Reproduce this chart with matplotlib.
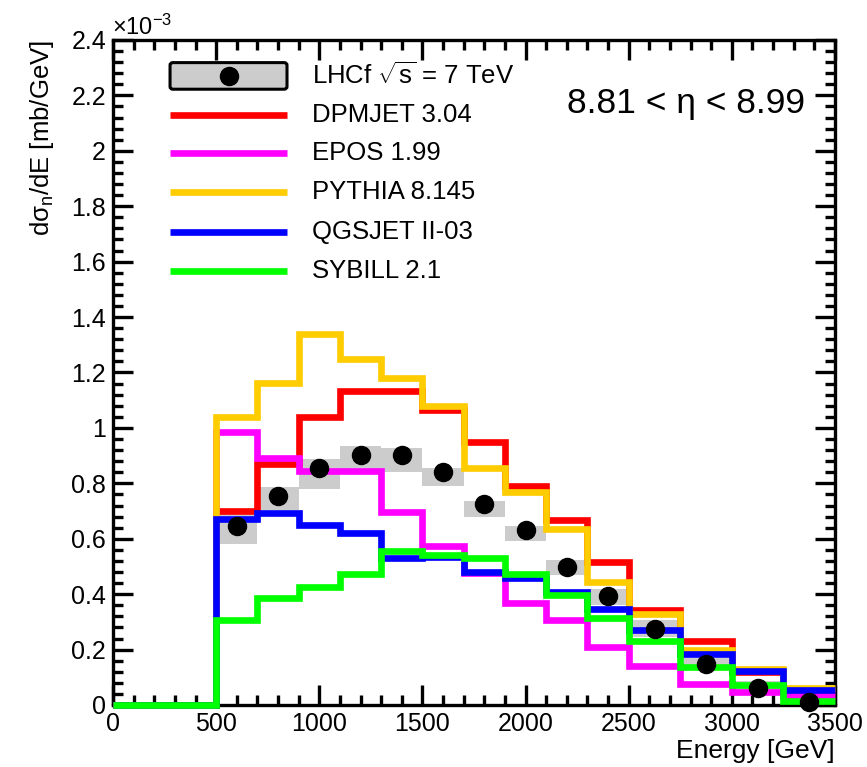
import numpy as np
import matplotlib
matplotlib.use("Agg")
import matplotlib.pyplot as plt
from matplotlib.ticker import MultipleLocator, FuncFormatter
from matplotlib.patches import FancyBboxPatch

plt.rcParams['font.family'] = ['Liberation Sans', 'DejaVu Sans']
plt.rcParams['mathtext.fontset'] = 'custom'
plt.rcParams['mathtext.rm'] = 'Liberation Sans'
plt.rcParams['mathtext.it'] = 'Liberation Sans:italic'
plt.rcParams['mathtext.bf'] = 'Liberation Sans:bold'

# ---- data (units of 1e-3 mb/GeV) ----
edges = [0, 500, 700, 900, 1100, 1300, 1500, 1700, 1900, 2100, 2300, 2500, 2750, 3000, 3250, 3500]
dpmjet = [0, 0.70, 0.87, 1.04, 1.135, 1.135, 1.065, 0.95, 0.79, 0.667, 0.515, 0.344, 0.231, 0.12, 0.05]
epos   = [0, 0.987, 0.89, 0.844, 0.844, 0.695, 0.573, 0.476, 0.367, 0.306, 0.21, 0.141, 0.077, 0.047, 0.033]
pythia = [0, 1.04, 1.163, 1.34, 1.247, 1.18, 1.08, 0.857, 0.767, 0.634, 0.443, 0.328, 0.199, 0.131, 0.062]
qgsjet = [0, 0.673, 0.693, 0.648, 0.622, 0.53, 0.533, 0.48, 0.457, 0.407, 0.346, 0.27, 0.183, 0.123, 0.054]
sybill = [0, 0.306, 0.385, 0.425, 0.472, 0.555, 0.542, 0.53, 0.472, 0.396, 0.313, 0.231, 0.137, 0.072, 0.016]

lhcf    = [0.647, 0.754, 0.857, 0.904, 0.901, 0.841, 0.726, 0.63, 0.498, 0.392, 0.275, 0.149, 0.063, 0.01]
lhcf_lo = [0.582, 0.705, 0.78, 0.853, 0.84, 0.789, 0.68, 0.591, 0.468, 0.36, 0.246, 0.135, 0.045, 0.0]
lhcf_hi = [0.69, 0.785, 0.889, 0.936, 0.926, 0.857, 0.738, 0.645, 0.522, 0.42, 0.307, 0.17, 0.085, 0.02]

model_names = ["DPMJET 3.04", "EPOS 1.99", "PYTHIA 8.145", "QGSJET II-03", "SYBILL 2.1"]
model_colors = ["#ff0000", "#ff00ff", "#ffcc00", "#0000ff", "#00ff00"]
models = [dpmjet, epos, pythia, qgsjet, sybill]
data_label = r"LHCf $\sqrt{\mathrm{s}}$ = 7 TeV"
eta_label = "8.81 < η < 8.99"

W, H = 867, 767
fig = plt.figure(figsize=(W / 100, H / 100), dpi=100)
ax = fig.add_axes([113 / W, 1 - 705 / H, (835 - 113) / W, (705 - 40) / H])

e = np.array(edges, dtype=float)
dedges = e[1:]
centers = 0.5 * (dedges[1:] + dedges[:-1])
widths = np.diff(dedges)

# systematic boxes
lo = np.array(lhcf_lo); hi = np.array(lhcf_hi)
ax.bar(centers, hi - lo, bottom=lo, width=widths, color="#cccccc", zorder=1, linewidth=0)

LW = 4.8
for vals, col in zip(models, model_colors):
    ax.stairs(vals, e, baseline=None, color=col, linewidth=LW, zorder=3, clip_on=False)

ax.plot(centers, lhcf, 'o', color='black', markersize=13, zorder=5, clip_on=False)

ax.set_xlim(0, 3500)
ax.set_ylim(0, 2.4)

ax.xaxis.set_major_locator(MultipleLocator(500))
ax.xaxis.set_minor_locator(MultipleLocator(100))
ax.yaxis.set_major_locator(MultipleLocator(0.2))
ax.yaxis.set_minor_locator(MultipleLocator(0.04))
ax.yaxis.set_major_formatter(FuncFormatter(lambda v, p: "%g" % round(v, 3)))
ax.xaxis.set_major_formatter(FuncFormatter(lambda v, p: "%g" % v))

ax.tick_params(which='both', direction='in', top=True, right=True, width=2.4, labelsize=18)
ax.tick_params(which='major', length=14.5, pad=5)
ax.tick_params(which='minor', length=7)
for s in ax.spines.values():
    s.set_linewidth(2.4)

# legend (manual)
rows_y = [0.946, 0.887, 0.830, 0.771, 0.712, 0.653]
x0, x1, xt = 0.079, 0.241, 0.276
box = FancyBboxPatch((x0, 0.926), x1 - x0, 0.040, boxstyle="round,pad=0,rounding_size=0.004",
                     transform=ax.transAxes, facecolor="#cccccc", edgecolor="black", linewidth=2.2, zorder=6)
ax.add_patch(box)
ax.plot([(x0 + x1) / 2], [rows_y[0]], 'o', color='black', markersize=13, transform=ax.transAxes, zorder=7)
ax.text(xt, rows_y[0], data_label, transform=ax.transAxes, fontsize=18.5, va='center', ha='left')
for i, (nm, col) in enumerate(zip(model_names, model_colors)):
    y = rows_y[i + 1]
    ax.plot([x0, x1], [y, y], color=col, linewidth=LW, transform=ax.transAxes, solid_capstyle='butt', zorder=6)
    ax.text(xt, y, nm, transform=ax.transAxes, fontsize=18.5, va='center', ha='left')

fig.text(805 / W, 1 - 103 / H, eta_label, fontsize=25.5, ha='right', va='center')
fig.text(112 / W, 1 - 35 / H, r"$\times$10$^{-3}$", fontsize=17, ha='left', va='baseline')
fig.text(42 / W, 1 - 40 / H, "dσ$_{\\mathrm{n}}$/dE [mb/GeV]", fontsize=18.5, rotation=90, ha='center', va='top')
fig.text(835 / W, 1 - 751 / H, "Energy [GeV]", fontsize=19, ha='right', va='center')

fig.savefig("out.png", dpi=100)
